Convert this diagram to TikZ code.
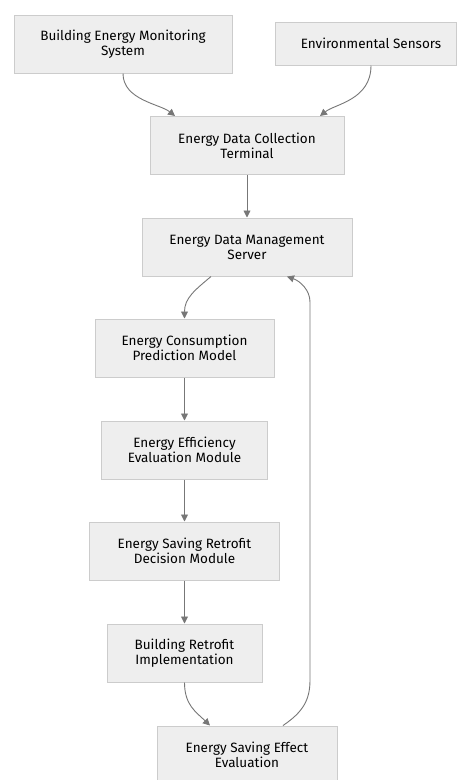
\documentclass[tikz,border=0pt]{standalone}
\usepackage{fontspec}
\setmainfont{Fira Sans}
\usetikzlibrary{arrows.meta}
\definecolor{boxfill}{HTML}{EEEEEE}
\definecolor{boxline}{HTML}{CCCCCC}
\definecolor{edgecol}{HTML}{777777}
\tikzset{
  box/.style={draw=boxline, fill=boxfill, line width=1pt, rectangle, align=center,
    inner sep=0pt, font=\fontsize{13.5}{15}\selectfont, text=black},
  flow/.style={draw=edgecol, line width=0.9pt, -{Triangle[length=7pt,width=7pt]}}
}
\begin{document}
\begin{tikzpicture}[x=1pt,y=-1pt]
\useasboundingbox (0,0) rectangle (457,780);
\clip (0,0) rectangle (457,780);
\fill[white] (0,0) rectangle (457,780);
\node[box, minimum width=218pt, minimum height=58pt] (b1) at (123,44) {Building Energy Monitoring\\System};
\node[box, minimum width=181pt, minimum height=43pt] (b2) at (365.5,43.5) {\hspace*{11pt}Environmental Sensors};
\node[box, minimum width=194pt, minimum height=58pt] (b3) at (247,145.5) {Energy Data Collection\\Terminal};
\node[box, minimum width=210pt, minimum height=58pt] (b4) at (247,247) {Energy Data Management\\Server};
\node[box, minimum width=179pt, minimum height=58pt] (b5) at (184.5,348) {Energy Consumption\\Prediction Model};
\node[box, minimum width=166pt, minimum height=58pt] (b6) at (184.5,450) {Energy Efficiency\\Evaluation Module};
\node[box, minimum width=190pt, minimum height=58pt] (b7) at (184.5,551) {Energy Saving Retrofit\\Decision Module};
\node[box, minimum width=155pt, minimum height=58pt] (b8) at (184.5,653) {Building Retrofit\\Implementation};
\node[box, minimum width=180pt, minimum height=58pt] (b9) at (247,755) {Energy Saving Effect\\Evaluation};

\draw[flow] (b1.south) .. controls (123,100) and (160,104) .. ([xshift=-72pt]b3.north);
\draw[flow] ([xshift=5.5pt]b2.south) .. controls (371,100) and (335,104) .. ([xshift=73pt]b3.north);
\draw[flow] (b3.south) -- (b4.north);
\draw[flow] ([xshift=-36pt]b4.south) .. controls (195,290) and (184.5,298) .. (b5.north);
\draw[flow] (b5.south) -- (b6.north);
\draw[flow] (b6.south) -- (b7.north);
\draw[flow] (b7.south) -- (b8.north);
\draw[flow] (b8.south) .. controls (184.5,705) and (196,712) .. ([xshift=-37pt]b9.north);
\draw[flow] ([xshift=36pt]b9.north) .. controls (303,712) and (310,700) .. (310,680)
  -- (310,302) .. controls (310,290) and (300,281) .. ([xshift=40pt]b4.south);
\end{tikzpicture}
\end{document}
